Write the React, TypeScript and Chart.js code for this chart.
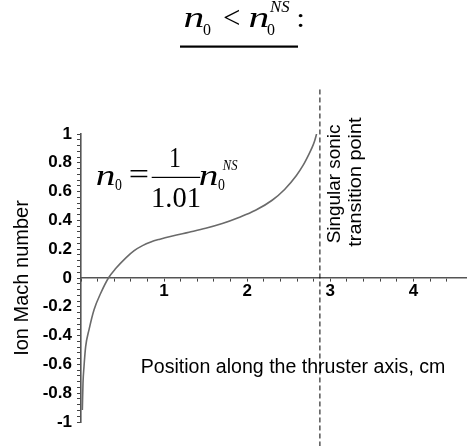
import React, { useEffect, useRef } from "react";
import { Chart, registerables } from "chart.js";

Chart.register(...registerables);

// Curve: ion Mach number vs. position along the thruster axis (cm)
const positionCm = [0.016, 0.024, 0.036, 0.056, 0.096, 0.157, 0.237, 0.33, 0.42, 0.54, 0.64, 0.74, 0.84, 0.94, 1.1, 1.3, 1.5, 1.7, 1.9, 2.1, 2.3, 2.45, 2.59, 2.67, 2.73, 2.78, 2.81, 2.835];
const machNumber = [-0.917, -0.73, -0.616, -0.477, -0.36, -0.22, -0.106, 0, 0.067, 0.14, 0.19, 0.225, 0.25, 0.268, 0.292, 0.318, 0.345, 0.378, 0.42, 0.47, 0.54, 0.615, 0.71, 0.78, 0.845, 0.905, 0.95, 1.0];

// Singular sonic transition point (dashed vertical line)
const singularX = [2.875, 2.875];
const singularY = [-1.17, 1.31];

// Axis ranges and tick labels
const xRange = [0, 4.645];
const yRange = [-1, 1];
const xTickValues = [1, 2, 3, 4];
const xTickLabels = ["1", "2", "3", "4"];
const yTickValues = [-1, -0.8, -0.6, -0.4, -0.2, 0, 0.2, 0.4, 0.6, 0.8, 1];
const yTickLabels = ["-1", "-0.8", "-0.6", "-0.4", "-0.2", "0", "0.2", "0.4", "0.6", "0.8", "1"];

const yAxisTitle = "Ion Mach number";
const xAxisTitle = "Position along the thruster axis, cm";
const markerLines = ["Singular sonic", "transition point"];

const SANS = "'Liberation Sans', Arial, sans-serif";
const SERIF = "'Liberation Serif', 'Times New Roman', serif";

function lookup(values: number[], labels: string[], v: number): string {
  for (let i = 0; i < values.length; i++) {
    if (Math.abs(values[i] - v) < 1e-6) return labels[i];
  }
  return "";
}

// draw text so that its ink spans `length` pixels from (x, y) along the given angle
function fitAt(ctx: CanvasRenderingContext2D, text: string, font: string, x: number, y: number, length: number, angle = 0) {
  ctx.save();
  ctx.font = font;
  ctx.textAlign = "left";
  ctx.textBaseline = "alphabetic";
  ctx.fillStyle = "#000";
  const m = ctx.measureText(text);
  const inkW = m.actualBoundingBoxLeft + m.actualBoundingBoxRight;
  ctx.translate(x, y);
  ctx.rotate(angle);
  ctx.scale(length / inkW, 1);
  ctx.fillText(text, m.actualBoundingBoxLeft, 0);
  ctx.restore();
}

const textPlugin = {
  id: "annotText",
  afterDraw(chart: any) {
    const ctx: CanvasRenderingContext2D = chart.ctx;
    // Title: n0 < n0^NS :
    fitAt(ctx, "n", `italic 30px ${SERIF}`, 185, 26.7, 18);
    fitAt(ctx, "0", `17px ${SERIF}`, 203, 35, 7.5);
    fitAt(ctx, "<", `31px ${SERIF}`, 224, 27.5, 15);
    fitAt(ctx, "n", `italic 30px ${SERIF}`, 250, 26.7, 18);
    fitAt(ctx, "0", `17px ${SERIF}`, 267, 35, 7.5);
    fitAt(ctx, "NS", `italic 17px ${SERIF}`, 269, 11.7, 21);
    fitAt(ctx, ":", `28px ${SERIF}`, 298.5, 26.7, 4.5);
    ctx.save();
    ctx.fillStyle = "#000";
    ctx.fillRect(180, 45.5, 118, 2.2);
    ctx.restore();

    // Formula: n0 = 1/1.01 n0^NS
    fitAt(ctx, "n", `italic 30px ${SERIF}`, 97, 185, 17);
    fitAt(ctx, "0", `17px ${SERIF}`, 115, 190, 6.5);
    fitAt(ctx, "=", `30px ${SERIF}`, 130, 184, 18);
    fitAt(ctx, "1", `30px ${SERIF}`, 170.5, 166.7, 9.5);
    ctx.save();
    ctx.fillStyle = "#000";
    ctx.fillRect(151.7, 176.8, 48.5, 1.2);
    ctx.restore();
    fitAt(ctx, "1.01", `30px ${SERIF}`, 153, 206.7, 47);
    fitAt(ctx, "n", `italic 30px ${SERIF}`, 200, 185, 17);
    fitAt(ctx, "0", `17px ${SERIF}`, 218, 190, 6.5);
    fitAt(ctx, "NS", `italic 15px ${SERIF}`, 222, 170, 16);

    // x-axis title inside the plot
    fitAt(ctx, xAxisTitle, `20px ${SANS}`, 141.7, 373, 303);

    // vertical annotation next to the dashed line
    fitAt(ctx, markerLines[0], `19px ${SANS}`, 339.5, 243.3, 118.3, -Math.PI / 2);
    fitAt(ctx, markerLines[1], `19px ${SANS}`, 361, 246.7, 130, -Math.PI / 2);
  },
};

export default function App() {
  const ref = useRef<HTMLCanvasElement | null>(null);

  useEffect(() => {
    if (!ref.current) return;
    const chart = new Chart(ref.current, {
      type: "line",
      data: {
        datasets: [
          {
            data: positionCm.map((x, i) => ({ x, y: machNumber[i] })),
            borderColor: "#6a6a6a",
            borderWidth: 1.6,
            pointRadius: 0,
            cubicInterpolationMode: "monotone",
            fill: false,
          },
          {
            data: singularX.map((x, i) => ({ x, y: singularY[i] })),
            borderColor: "#000",
            borderWidth: 1,
            borderDash: [5, 3],
            pointRadius: 0,
            fill: false,
            clip: false,
          },
        ],
      } as any,
      options: {
        responsive: false,
        animation: false,
        devicePixelRatio: 1,
        layout: { padding: { top: 134, bottom: 24, left: 0, right: 0 } },
        plugins: {
          legend: { display: false },
          tooltip: { enabled: false },
          title: { display: false },
        },
        scales: {
          x: {
            type: "linear",
            min: xRange[0],
            max: xRange[1],
            position: { y: 0 },
            afterFit: (s: any) => {
              s.height = 0;
            },
            ticks: {
              stepSize: 0.2,
              autoSkip: false,
              maxTicksLimit: 1000,
              maxRotation: 0,
              minRotation: 0,
              padding: 0,
              color: "#000",
              font: { family: SANS, size: 17, weight: "bold" },
              callback: (v: any) => lookup(xTickValues, xTickLabels, Number(v)),
            },
            grid: { drawOnChartArea: false, drawTicks: true, tickLength: 3, color: "#444", lineWidth: 1 },
            border: { display: true, color: "#555", width: 1.6 },
          },
          y: {
            type: "linear",
            min: yRange[0],
            max: yRange[1],
            position: "left",
            afterFit: (s: any) => {
              s.width = 81;
            },
            ticks: {
              stepSize: 0.04,
              autoSkip: false,
              maxTicksLimit: 1000,
              padding: 5,
              color: "#000",
              font: { family: SANS, size: 17, weight: "bold" },
              callback: (v: any) => lookup(yTickValues, yTickLabels, Number(v)),
            },
            grid: { drawOnChartArea: false, drawTicks: true, tickLength: 4, color: "#444", lineWidth: 1 },
            border: { display: true, color: "#555", width: 1.6 },
            title: {
              display: true,
              text: yAxisTitle,
              color: "#000",
              font: { family: SANS, size: 20 },
              padding: { top: 10, bottom: 0 },
            },
          },
        },
      } as any,
      plugins: [textPlugin],
    });
    return () => chart.destroy();
  }, []);

  return (
    <div style={{ position: "absolute", left: 0, top: 0, width: 467, height: 446, background: "#fff" }}>
      <canvas ref={ref} width={467} height={446} style={{ display: "block" }} />
    </div>
  );
}
